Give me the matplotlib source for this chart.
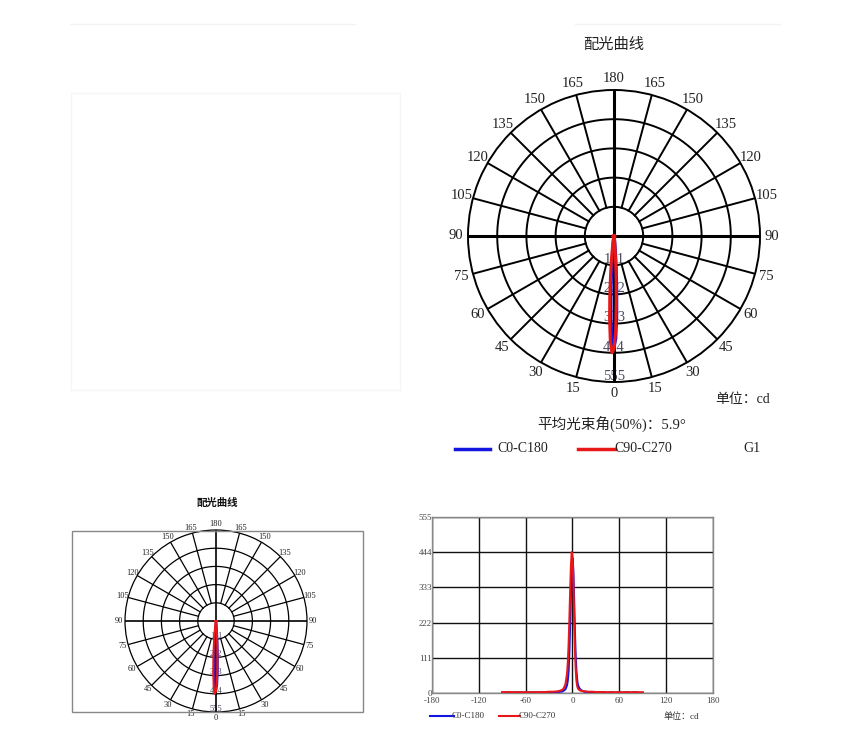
import numpy as np
import matplotlib.pyplot as plt
from matplotlib.lines import Line2D
from matplotlib.patches import Rectangle

plt.rcParams['font.family'] = ['Liberation Serif', 'Noto Sans CJK SC']
plt.rcParams['axes.unicode_minus'] = False

# углы гамма (градусы) и силы света (кд)
gamma = [-90, -85, -80, -75, -70, -65, -60, -55, -50, -45, -40, -35, -30, -25, -20,
         -16, -13, -11, -9, -7, -6, -5, -4, -3, -2, -1, 0, 1, 2, 3, 4, 5, 6, 7,
         9, 11, 13, 16, 20, 25, 30, 35, 40, 45, 50, 55, 60, 65, 70, 75, 80, 85, 90]
c0_c180 = [1, 2, 1, 2, 1, 2, 1, 2, 1, 2, 2, 2, 2, 3, 3,
           4, 5, 8, 12, 25, 40, 70, 130, 220, 320, 400, 425, 390, 300, 200, 120, 70, 40, 25,
           14, 9, 6, 4, 3, 3, 2, 2, 2, 1, 2, 1, 2, 1, 2, 1, 2, 1, 1]
c90_c270 = [3, 2, 3, 2, 3, 2, 3, 2, 3, 2, 3, 3, 4, 4, 5,
            7, 10, 16, 28, 60, 95, 150, 230, 320, 400, 444, 430, 360, 250, 150, 80, 40, 22, 14,
            9, 7, 6, 5, 4, 4, 3, 3, 3, 2, 3, 2, 3, 2, 3, 2, 3, 2, 2]
rings = [111, 222, 333, 444, 555]
spokes = list(range(0, 360, 15))
x_ticks = [-180, -120, -60, 0, 60, 120, 180]
y_ticks = [0, 111, 222, 333, 444, 555]
names = ['C0-C180', 'C90-C270']
colors = ['#1515e0', '#e81818']

W, H = 854, 732
fig = plt.figure(figsize=(W / 100, H / 100), dpi=100)


def box(x0, y0, x1, y1):
    return [x0 / W, 1 - y1 / H, (x1 - x0) / W, (y1 - y0) / H]


def ftext(x, y, s, **kw):
    fig.text(x / W, 1 - y / H, s, ha=kw.pop('ha', 'center'), va=kw.pop('va', 'center'), **kw)


def polar_chart(ax, fs, lw, lw_main, lw_curve, lab_r, rad_off):
    ax.set_theta_zero_location('S')
    ax.set_ylim(0, 555)
    ax.set_xticks([])
    ax.set_yticks([])
    ax.grid(False)
    ax.spines['polar'].set_color('black')
    ax.spines['polar'].set_linewidth(lw)
    t = np.linspace(0, 2 * np.pi, 400)
    for r in rings[:-1]:
        ax.plot(t, [r] * len(t), color='black', lw=lw)
    for a in spokes:
        th = np.deg2rad(a)
        if a % 90 == 0:
            ax.plot([th, th], [0, 555], color='black', lw=lw_main)
        else:
            ax.plot([th, th], [111, 555], color='black', lw=lw)
        lab = a if a <= 180 else 360 - a
        ax.text(th, lab_r, str(lab), ha='center', va='center', fontsize=fs,
                color='#222222', clip_on=False)
    for r in rings:
        ax.text(0, r - rad_off, str(r), ha='center', va='center', fontsize=fs,
                color='#4a4a5e', zorder=1)
    th = np.deg2rad(gamma)
    ax.plot(th, c0_c180, color=colors[0], lw=lw_curve, zorder=5)
    ax.plot(th, c90_c270, color=colors[1], lw=lw_curve, zorder=6)


# бледные остатки в левом верхнем углу
fig.add_artist(Line2D([70 / W, 355 / W], [1 - 24 / H] * 2, color='#f3f3f3', lw=1))
fig.add_artist(Line2D([575 / W, 780 / W], [1 - 24 / H] * 2, color='#f3f3f3', lw=1))
fig.add_artist(Rectangle((71 / W, 1 - 390 / H), 329 / W, 297 / H, transform=fig.transFigure,
                         fill=False, edgecolor='#f5f5f5', lw=1))

# верхняя полярная диаграмма
ax1 = fig.add_axes(box(468, 90, 760, 382), projection='polar')
polar_chart(ax1, 10.5, 1.4, 2.2, 2.2, 600, 22)
ftext(614, 45, '配光曲线', fontsize=11, color='#222222')
ftext(743, 399, '单位：cd', fontsize=10, color='#222222')
ftext(612, 424, '平均光束角(50%)：5.9°', fontsize=10.5, color='#222222')
fig.add_artist(Line2D([455 / W, 490 / W], [1 - 449 / H] * 2, color=colors[0], lw=2.5))
ftext(497, 449, names[0], fontsize=10, ha='left', color='#222222')
fig.add_artist(Line2D([578 / W, 615 / W], [1 - 449 / H] * 2, color=colors[1], lw=2.5))
ftext(614, 449, names[1], fontsize=10, ha='left', color='#222222')
ftext(752, 449, 'G1', fontsize=10, color='#222222')

# нижняя левая полярная диаграмма
fig.add_artist(Rectangle((72 / W, 1 - 712 / H), 291 / W, 181 / H, transform=fig.transFigure,
                         fill=False, edgecolor='#888888', lw=1))
ax2 = fig.add_axes(box(125, 530, 307, 712), projection='polar')
polar_chart(ax2, 6, 0.9, 1.2, 1.5, 590, 20)
ftext(217, 503, '配光曲线', fontsize=7.5, fontweight='bold', color='#111111')

# нижний правый декартов график
ax3 = fig.add_axes(box(432, 517, 713, 693))
ax3.plot(gamma, c0_c180, color=colors[0], lw=1.5, zorder=5)
ax3.plot(gamma, c90_c270, color=colors[1], lw=1.5, zorder=6)
ax3.set_xlim(-180, 180)
ax3.set_ylim(0, 555)
ax3.set_xticks(x_ticks)
ax3.set_yticks(y_ticks)
ax3.tick_params(length=0, labelsize=6.5, labelcolor='#444444')
ax3.tick_params(axis='y', pad=0)
ax3.tick_params(axis='x', pad=3)
ax3.grid(True, color='#111111', lw=1)
for s in ax3.spines.values():
    s.set_color('#888888')
    s.set_linewidth(1)
fig.add_artist(Line2D([430 / W, 454 / W], [1 - 716 / H] * 2, color=colors[0], lw=1.5))
ftext(452, 716, names[0], fontsize=6.5, ha='left', color='#333333')
fig.add_artist(Line2D([499 / W, 520 / W], [1 - 716 / H] * 2, color=colors[1], lw=1.5))
ftext(519, 716, names[1], fontsize=6.5, ha='left', color='#333333')
ftext(681, 717, '单位：cd', fontsize=6.5, color='#333333')

fig.savefig('out.png', dpi=100)
